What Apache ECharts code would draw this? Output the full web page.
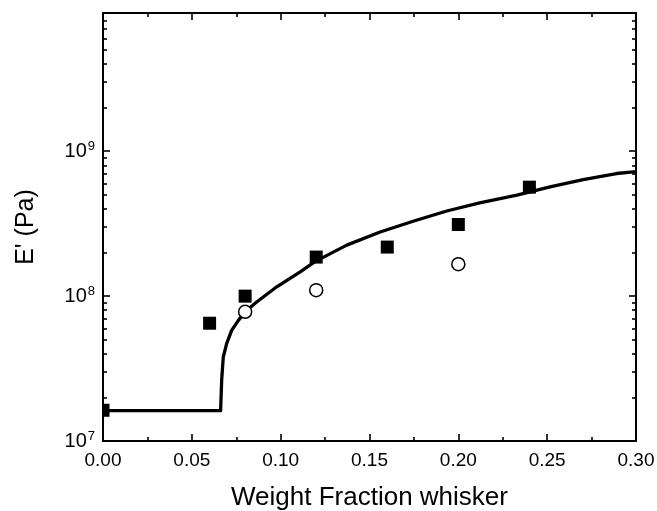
<!DOCTYPE html>
<html><head><meta charset="utf-8">
<script src="https://cdn.jsdelivr.net/npm/echarts@6/dist/echarts.min.js"></script>
<style>html,body{margin:0;padding:0;background:#fff}#c{width:657px;height:511px}</style>
</head><body><div id="c"></div>
<script>
// Filled squares (measured E')
const squareX = [0.00, 0.06, 0.08, 0.12, 0.16, 0.20, 0.24];
const squareY = [1.63e7, 6.5e7, 1.0e8, 1.86e8, 2.18e8, 3.12e8, 5.65e8];
// Open circles
const circleX = [0.08, 0.12, 0.20];
const circleY = [7.8e7, 1.1e8, 1.66e8];
// Model curve
const curveX = [0, 0.0662, 0.0668, 0.0677, 0.0696, 0.0724, 0.0762, 0.080, 0.0865, 0.0978, 0.111, 0.1193, 0.1372, 0.156, 0.175, 0.1935, 0.212, 0.233, 0.2516, 0.2703, 0.289, 0.30];
const curveY = [1.62e7, 1.62e7, 2.64e7, 3.8e7, 4.7e7, 5.8e7, 6.8e7, 7.8e7, 9.1e7, 1.16e8, 1.47e8, 1.73e8, 2.25e8, 2.77e8, 3.3e8, 3.87e8, 4.4e8, 4.98e8, 5.68e8, 6.38e8, 7.02e8, 7.23e8];
// Axis ticks
const yMajor = [1e7, 1e8, 1e9];
const yMinor = [2e7,3e7,4e7,5e7,6e7,7e7,8e7,9e7,2e8,3e8,4e8,5e8,6e8,7e8,8e8,9e8,2e9,3e9,4e9,5e9,6e9,7e9,8e9];
const yMin = 1e7, yMax = 9e9;

const zip = (a,b)=>a.map((v,i)=>[v,b[i]]);
const FONT = 'Liberation Sans, Arial, sans-serif';
const axisLine = {show:true, lineStyle:{color:'#000', width:2}};

function yAxisDef(pos, ticks, len, labels){
  return {
    type:'log', logBase:10, min:yMin, max:yMax, position:pos, gridIndex:0,
    axisLine: axisLine,
    axisTick:{show:true, inside:true, length:len, lineStyle:{color:'#000', width:1.6}, customValues:ticks},
    axisLabel: labels ? {show:true, customValues:yMajor, margin:8, color:'#000', fontFamily:FONT,
      formatter: v => '{b|10}{s|' + Math.round(Math.log10(v)) + '}',
      rich:{b:{fontSize:20, fontFamily:FONT, color:'#000', lineHeight:22}, s:{fontSize:13, fontFamily:FONT, color:'#000', verticalAlign:'top', lineHeight:22, padding:[0,0,0,1]}}
    } : {show:false},
    splitLine:{show:false},
    name: labels ? "E' (Pa)" : '', nameLocation:'middle', nameGap:64,
    nameTextStyle:{fontSize:25, fontFamily:FONT, color:'#000'}
  };
}

const chart = echarts.init(document.getElementById('c'), null, {renderer:'canvas'});
chart.setOption({
  animation:false,
  backgroundColor:'#fff',
  grid:{left:103, right:21, top:13, bottom:70, containLabel:false, outerBoundsMode:'none'},
  xAxis:[
    {type:'value', min:0, max:0.3, interval:0.05, position:'bottom',
     axisLine:axisLine,
     axisTick:{show:true, inside:true, length:7, lineStyle:{color:'#000', width:1.6}},
     minorTick:{show:true, splitNumber:2, length:4, lineStyle:{color:'#000', width:1.6}},
     axisLabel:{show:true, margin:10, color:'#000', fontSize:19, fontFamily:FONT, formatter:v=>v.toFixed(2)},
     splitLine:{show:false},
     name:'Weight Fraction whisker', nameLocation:'middle', nameGap:44,
     nameTextStyle:{fontSize:26, fontFamily:FONT, color:'#000'}},
    {type:'value', min:0, max:0.3, interval:0.05, position:'top',
     axisLine:axisLine,
     axisTick:{show:true, inside:true, length:7, lineStyle:{color:'#000', width:1.6}},
     minorTick:{show:true, splitNumber:2, length:4, lineStyle:{color:'#000', width:1.6}},
     axisLabel:{show:false}, splitLine:{show:false}}
  ],
  yAxis:[
    yAxisDef('left', yMajor, 7, true),
    yAxisDef('left', yMinor, 4, false),
    yAxisDef('right', yMajor, 7, false),
    yAxisDef('right', yMinor, 4, false)
  ],
  series:[
    {type:'line', xAxisIndex:0, yAxisIndex:0, data:zip(curveX, curveY), showSymbol:false, symbol:'none',
     smooth:false, lineStyle:{color:'#000', width:3.3, join:'round'}, z:2},
    {type:'custom', xAxisIndex:0, yAxisIndex:0, data:zip(squareX, squareY), clip:true, z:3,
     renderItem:(params, api)=>{
       const p = api.coord([api.value(0), api.value(1)]);
       const s = 13;
       return {type:'rect', shape:{x:p[0]-s/2, y:p[1]-s/2, width:s, height:s}, style:{fill:'#000'}};
     }},
    {type:'scatter', xAxisIndex:0, yAxisIndex:0, data:zip(circleX, circleY), symbol:'circle', symbolSize:13,
     itemStyle:{color:'#fff', borderColor:'#000', borderWidth:1.5, opacity:1}, z:4}
  ]
});
</script></body></html>
